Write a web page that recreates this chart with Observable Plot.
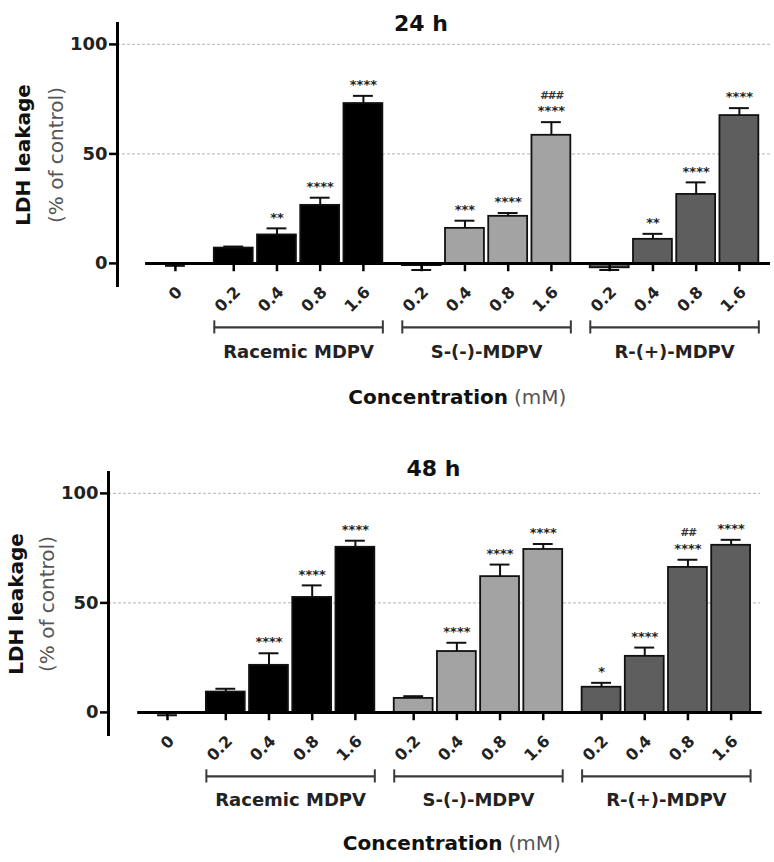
<!DOCTYPE html>
<html><head><meta charset="utf-8">
<script src="https://cdn.jsdelivr.net/npm/d3@7"></script>
<script src="https://cdn.jsdelivr.net/npm/@observablehq/plot@0.6"></script>
<style>
body{margin:0;background:#fff;}
#root{width:774px;}
#root svg{display:block;overflow:visible;}
</style></head><body><div id="root"></div>
<script>
// ---- data ----
const groupNames = ["Control", "Racemic MDPV", "S-(-)-MDPV", "R-(+)-MDPV"];
const groupColors = ["#000000", "#000000", "#a3a3a3", "#5e5e5e"];
const concLabels = ["0", "0.2", "0.4", "0.8", "1.6", "0.2", "0.4", "0.8", "1.6", "0.2", "0.4", "0.8", "1.6"];
const barGroup = [0, 1, 1, 1, 1, 2, 2, 2, 2, 3, 3, 3, 3];

const ldh24 = [-0.3, 7, 13, 26.5, 73, -1, 16, 21.5, 58.5, -2, 11, 31.5, 67.5];
const err24 = [0.8, 0.7, 3, 3.5, 3.5, 2, 3.5, 1.5, 6, 1, 2.5, 5.5, 3.4];
const sig24 = ["", "", "**", "****", "****", "", "***", "****", "****", "", "**", "****", "****"];
const hash24 = ["", "", "", "", "", "", "", "", "###", "", "", "", ""];

const ldh48 = [-0.5, 9.3, 21.5, 52.5, 75.4, 6.4, 27.8, 62, 74.4, 11.5, 25.6, 66.2, 76.3];
const err48 = [0.8, 1.5, 5.5, 5.5, 3, 1, 4, 5.5, 2.5, 2, 4, 3.5, 2.5];
const sig48 = ["", "", "****", "****", "****", "", "****", "****", "****", "*", "****", "****", "****"];
const hash48 = ["", "", "", "", "", "", "", "", "", "", "", "##", ""];

const yTicks = [0, 50, 100];
const gridValues = [50, 100];
const yDomain = [-11, 110];

// ---- layout constants ----
const GAP = 0.35, HALF = 0.45, CAP = 0.23, TICK = 3.8, BCAP = 3;
const FONT = "DejaVu Sans";

function chart(cfg) {
  const data = cfg.values.map((v, i) => ({
    pos: i + GAP * barGroup[i],
    label: concLabels[i],
    group: barGroup[i],
    value: v,
    capY: v + (v < 0 ? -cfg.errs[i] : cfg.errs[i]),
    sig: cfg.sigs[i],
    hash: cfg.hashes[i]
  }));
  const minPos = d3.min(data, d => d.pos), maxPos = d3.max(data, d => d.pos);
  const groups = [1, 2, 3].map(g => {
    const ps = data.filter(d => d.group === g).map(d => d.pos);
    return {name: groupNames[g], x1: d3.min(ps) - HALF, x2: d3.max(ps) + HALF, xc: d3.mean(ps)};
  });
  const ends = groups.flatMap(g => [{x: g.x1}, {x: g.x2}]);
  const xDomain = [minPos - cfg.leftPad, maxPos + cfg.rightPad];

  return Plot.plot({
    width: 774,
    height: cfg.height,
    marginTop: cfg.marginTop,
    marginBottom: cfg.marginBottom,
    marginLeft: cfg.marginLeft,
    marginRight: cfg.marginRight,
    style: {fontFamily: FONT, overflow: "visible"},
    x: {type: "linear", domain: xDomain, axis: null},
    y: {domain: yDomain, axis: null},
    color: {type: "identity"},
    marks: [
      Plot.ruleY(gridValues, {stroke: "#c2c2c2", strokeWidth: 1.3, strokeDasharray: "3,2"}),
      Plot.axisY(yTicks, {tickSize: 8, tickPadding: 2, fontSize: 18, fontWeight: "bold", fill: "#222", strokeWidth: 2.5, label: null}),
      Plot.ruleX([xDomain[0]], {y1: yDomain[0], y2: yDomain[1], strokeWidth: 3}),
      Plot.rectY(data, {x1: d => d.pos - HALF, x2: d => d.pos + HALF, y1: 0, y2: "value",
        fill: d => groupColors[d.group], stroke: "#111", strokeWidth: 1.8}),
      Plot.ruleX(data, {x: "pos", y1: "value", y2: "capY", strokeWidth: 2, stroke: "#111"}),
      Plot.ruleY(data, {y: "capY", x1: d => d.pos - CAP, x2: d => d.pos + CAP, strokeWidth: 2, stroke: "#111"}),
      Plot.ruleY([0], {x1: minPos - 0.69, x2: maxPos + 0.72, strokeWidth: 3}),
      Plot.ruleX(data, {x: "pos", y1: 0, y2: -TICK, strokeWidth: 2.5}),
      Plot.text(data, {x: "pos", y: 0, text: "label", rotate: -45, textAnchor: "end",
        dx: 4, dy: 26, fontSize: 16, fontWeight: "bold", fill: "#222"}),
      Plot.text(data, {x: "pos", y: "capY", text: "sig", dy: -11, fontSize: 13, fontWeight: "bold", fill: "#222"}),
      Plot.text(data, {x: "pos", y: "capY", text: "hash", dy: -27, fontSize: 11, fontWeight: "bold", fontStyle: "italic", fill: "#333"}),
      Plot.ruleY(groups, {y: 0, x1: "x1", x2: "x2", dy: cfg.bracketDy, stroke: "#3a3a3a", strokeWidth: 2.2}),
      Plot.ruleX(ends, {x: "x", y1: -BCAP, y2: BCAP, dy: cfg.bracketDy, stroke: "#3a3a3a", strokeWidth: 2}),
      Plot.text(groups, {x: "xc", y: 0, text: "name", dy: cfg.groupDy, fontSize: 18, fontWeight: "bold", fill: "#222"}),
      Plot.text([cfg.title], {frameAnchor: "top", text: d => d, dx: cfg.titleDx, dy: cfg.titleDy, fontSize: 22, fontWeight: "bold", fill: "#111"}),
      Plot.text(["Concentration"], {frameAnchor: "bottom", text: d => d, textAnchor: "end", dx: cfg.concDx, dy: cfg.concDy, fontSize: 20, fontWeight: "bold", fill: "#111"}),
      Plot.text(["(mM)"], {frameAnchor: "bottom", text: d => d, textAnchor: "start", dx: cfg.concDx + 6, dy: cfg.concDy, fontSize: 20, fill: "#555"}),
      Plot.text(["LDH leakage"], {frameAnchor: "left", textAnchor: "middle", text: d => d, rotate: -90, dx: cfg.yl1Dx, fontSize: 20, fontWeight: "bold", fill: "#111"}),
      Plot.text(["(% of control)"], {frameAnchor: "left", textAnchor: "middle", text: d => d, rotate: -90, dx: cfg.yl2Dx, fontSize: 20, fill: "#555"})
    ]
  });
}

const root = document.getElementById("root");
root.append(chart({
  title: "24 h", values: ldh24, errs: err24, sigs: sig24, hashes: hash24,
  height: 440, marginTop: 22, marginBottom: 153, marginLeft: 117, marginRight: 4,
  leftPad: 1.34, rightPad: 0.72,
  bracketDy: 64, groupDy: 89, titleDx: -23, titleDy: -7, concDx: 64, concDy: 116,
  yl1Dx: -94, yl2Dx: -61
}));
root.append(chart({
  title: "48 h", values: ldh48, errs: err48, sigs: sig48, hashes: hash48,
  height: 422, marginTop: 31, marginBottom: 126, marginLeft: 108, marginRight: 14,
  leftPad: 1.366, rightPad: 0.68,
  bracketDy: 64, groupDy: 88, titleDx: -1, titleDy: -11, concDx: 68, concDy: 113,
  yl1Dx: -92, yl2Dx: -61
}));
</script>
</body></html>
